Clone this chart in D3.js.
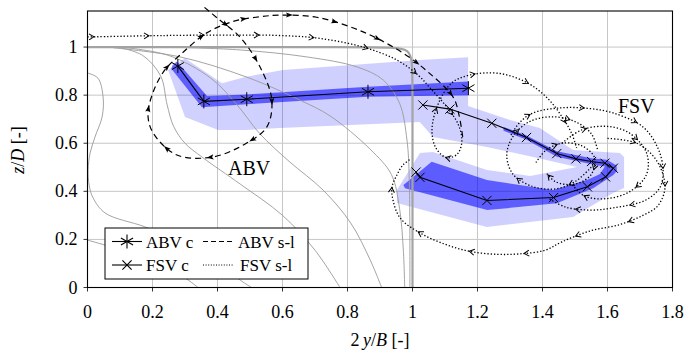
<!DOCTYPE html>
<html><head><meta charset="utf-8">
<script src="https://cdn.jsdelivr.net/npm/d3@7"></script>
<style>body{margin:0;background:#fff}svg{display:block}</style>
</head><body><svg id="c" width="687" height="352" font-family="'Liberation Serif','DejaVu Serif',serif"></svg>
<script>
// ---------- data ----------
const xTicks=[0,0.2,0.4,0.6,0.8,1,1.2,1.4,1.6,1.8];
const xTickLabels=["0","0.2","0.4","0.6","0.8","1","1.2","1.4","1.6","1.8"];
const yTicks=[0,0.2,0.4,0.6,0.8,1];
const yTickLabels=["0","0.2","0.4","0.6","0.8","1"];

// ABV core (centre) positions
const abvX=[0.278,0.358,0.49,0.863,1.172];
const abvY=[0.921,0.774,0.783,0.814,0.829];
// FSV core positions
const fsvX=[1.032,1.115,1.244,1.351,1.444,1.503,1.551,1.592,1.618,1.594,1.538,1.434,1.229,1.023,1.011];
const fsvY=[0.759,0.742,0.683,0.624,0.557,0.535,0.524,0.517,0.496,0.46,0.419,0.374,0.362,0.458,0.48];

// uncertainty bands (outer = light, inner = dark)
const abvLight=[[0.248,0.905],[0.3,0.954],[0.414,0.85],[0.485,0.876],[0.602,0.905],[1.023,0.946],[1.171,0.958],
  [1.171,0.709],[1.023,0.688],[0.592,0.663],[0.485,0.655],[0.402,0.655],[0.3,0.709]];
const abvDark=[[0.262,0.925],[0.275,0.94],[0.368,0.796],[0.49,0.803],[0.863,0.835],[1.171,0.857],
  [1.171,0.8],[0.863,0.793],[0.49,0.762],[0.352,0.75],[0.258,0.91]];
const fsvLight=[[1.011,0.788],[1.171,0.755],[1.3,0.697],[1.392,0.663],[1.494,0.572],[1.638,0.559],[1.651,0.543],
  [1.651,0.414],[1.617,0.393],[1.494,0.293],[1.229,0.252],[0.952,0.351],[0.952,0.406],[1.023,0.559],
  [1.063,0.564],[1.229,0.489],[1.362,0.464],[1.506,0.501],
  [1.371,0.543],[1.229,0.584],[1.063,0.626],[1.017,0.697]];
const fsvDark=[[1.28,0.668],[1.351,0.632],[1.444,0.567],[1.551,0.538],[1.598,0.531],[1.628,0.507],[1.629,0.485],
  [1.618,0.468],[1.556,0.413],[1.444,0.35],[1.23,0.322],[0.977,0.413],[0.972,0.426],[1.059,0.523],
  [1.229,0.447],[1.432,0.406],[1.537,0.447],[1.577,0.472],
  [1.592,0.503],[1.551,0.513],[1.444,0.544],[1.351,0.614],[1.28,0.652]];

// grey iso-lines
const contour1=[[0,0.197],[0.05,0.178],[0.15,0.135],[0.25,0.075],[0.3,0.04],[0.34,0]];
const contour2=[[0,0.892],[0.032,0.871],[0.048,0.792],[0.045,0.71],[0.023,0.626],[0.008,0.559],[0.002,0.49],[0.005,0.426],[0.016,0.376],[0.054,0.31],[0.177,0.252],[0.3,0.18],[0.4,0.1],[0.478,0.023],[0.505,0]];
const contour3=[[0.094,1],[0.17,0.965],[0.225,0.88],[0.245,0.76],[0.265,0.67],[0.3,0.6],[0.355,0.54],[0.47,0.43],[0.6,0.3],[0.7,0.155],[0.777,0]];
const contour4=[[0.1,1],[0.25,0.965],[0.38,0.87],[0.46,0.76],[0.53,0.64],[0.62,0.525],[0.725,0.405],[0.81,0.268],[0.87,0.114],[0.905,0]];
const contour5=[[0.08,0.997],[0.285,0.959],[0.49,0.875],[0.654,0.779],[0.746,0.714],[0.869,0.576],[0.935,0.47],[0.96,0.33],[0.972,0.15],[0.976,0]];
const contour6=[[0.3,0.998],[0.47,0.988],[0.675,0.959],[0.83,0.917],[0.91,0.863],[0.96,0.767],[0.983,0.613],[0.99,0.45],[0.992,0]];
const boundary=[[0,1],[0.9,1],[1,1],[1,0.9],[1,0]];

// streamlines
const abvStream=[[0.36,1.165],[0.4,1.12],[0.469,1.042],[0.531,0.917],[0.567,0.78],[0.552,0.668],[0.49,0.601],[0.386,0.543],[0.275,0.551],[0.202,0.643],[0.186,0.718],[0.202,0.813],[0.238,0.905],[0.285,0.967],[0.367,1.059],[0.454,1.109],[0.531,1.126],[0.592,1.133],[0.705,1.124],[0.848,1.063],[0.971,0.975],[1.048,0.896],[1.125,0.792],[1.143,0.718],[1.155,0.622]];
const fsvStream1=[[0,1.042],[0.238,1.048],[0.46,1.05],[0.592,1.048],[0.715,1.036],[0.848,1.0],[0.952,0.946],[1.02,0.88],[1.054,0.83],[1.1,0.76],[1.14,0.68],[1.152,0.61],[1.138,0.555],[1.105,0.54],[1.072,0.58],[1.06,0.655],[1.078,0.76],[1.12,0.85],[1.177,0.884],[1.269,0.89],[1.355,0.85],[1.417,0.785],[1.46,0.71],[1.49,0.64],[1.505,0.58]];
const fsvStream2=[[1.303,0.634],[1.331,0.688],[1.371,0.726],[1.454,0.747],[1.54,0.745],[1.617,0.726],[1.709,0.668],[1.755,0.58],[1.771,0.489],[1.762,0.418],[1.718,0.364],[1.617,0.331],[1.546,0.322],[1.47,0.335],[1.42,0.37]];
const fsvStream3=[[1.6,0.62],[1.69,0.6],[1.75,0.53],[1.777,0.42],[1.755,0.34],[1.709,0.3],[1.638,0.262],[1.546,0.235],[1.46,0.19],[1.408,0.155],[1.331,0.14],[1.26,0.138],[1.177,0.15],[1.1,0.18],[1.023,0.227],[0.962,0.289],[0.94,0.364],[0.937,0.418],[0.952,0.468],[0.971,0.51],[0.995,0.535]];
const fsvStream4=[[1.55,0.5],[1.5,0.44],[1.44,0.41],[1.37,0.42],[1.31,0.47],[1.29,0.55],[1.31,0.63],[1.36,0.69],[1.43,0.71],[1.5,0.69],[1.55,0.64],[1.57,0.57]];
const fsvStream5=[[1.46,0.6],[1.52,0.655],[1.6,0.67],[1.67,0.64],[1.72,0.56],[1.72,0.47],[1.67,0.4],[1.6,0.37],[1.53,0.38],[1.49,0.43]];
const fsvStream6=[[1.38,0.52],[1.41,0.57],[1.46,0.6],[1.52,0.59],[1.56,0.54],[1.55,0.47],[1.5,0.43],[1.44,0.44],[1.41,0.48]];

// ---------- layout ----------
const L=87.5,R=672.5,T=11,B=287.5;
const x=d3.scaleLinear().domain([0,1.8]).range([L,R]);
const y=d3.scaleLinear().domain([0,1.15]).range([B,T]);
const svg=d3.select("#c");
svg.append("defs").append("clipPath").attr("id","pc").append("rect")
  .attr("x",L).attr("y",T).attr("width",R-L).attr("height",B-T);

// grid
const grid=svg.append("g").attr("stroke","#c6c6c6").attr("stroke-width",1);
xTicks.forEach(t=>grid.append("line").attr("x1",x(t)).attr("x2",x(t)).attr("y1",T).attr("y2",B));
yTicks.forEach(t=>grid.append("line").attr("y1",y(t)).attr("y2",y(t)).attr("x1",L).attr("x2",R));

const poly=d3.line().x(d=>x(d[0])).y(d=>y(d[1]));
const plot=svg.append("g").attr("clip-path","url(#pc)");
const lg=plot.append("g").attr("opacity",0.18);
[abvLight,fsvLight].forEach(p=>lg.append("path").attr("d",poly(p)+"Z").attr("fill","#0000ff"));
const dg=plot.append("g").attr("opacity",0.55);
[abvDark,fsvDark].forEach(p=>dg.append("path").attr("d",poly(p)+"Z").attr("fill","#0000ff"));

// contours
const smooth=d3.line().x(d=>x(d[0])).y(d=>y(d[1])).curve(d3.curveCatmullRom.alpha(0.5));
[contour1,contour2,contour3,contour4,contour5,contour6].forEach(c=>
  plot.append("path").attr("d",smooth(c)).attr("fill","none").attr("stroke","#9a9a9a").attr("stroke-width",0.9));
plot.append("path").attr("d",d3.line().x(d=>x(d[0])).y(d=>y(d[1])).curve(d3.curveBasis)(boundary))
  .attr("fill","none").attr("stroke","#a3a3a3").attr("stroke-width",2.2);

// frame
svg.append("rect").attr("x",L).attr("y",T).attr("width",R-L).attr("height",B-T)
  .attr("fill","none").attr("stroke","#000").attr("stroke-width",1.1);

// ticks + labels
const tk=svg.append("g").attr("stroke","#000").attr("stroke-width",0.8);
xTicks.forEach((t,i)=>{
  tk.append("line").attr("x1",x(t)).attr("x2",x(t)).attr("y1",B).attr("y2",B+4);
  svg.append("text").attr("x",x(t)).attr("y",B+30).attr("text-anchor","middle").attr("font-size",18).text(xTickLabels[i]);
});
yTicks.forEach((t,i)=>{
  tk.append("line").attr("x1",L-4).attr("x2",L).attr("y1",y(t)).attr("y2",y(t));
  svg.append("text").attr("x",L-10).attr("y",y(t)+6).attr("text-anchor","end").attr("font-size",18).text(yTickLabels[i]);
});
const xl=svg.append("text").attr("x",380).attr("y",346).attr("text-anchor","middle").attr("font-size",18);
xl.append("tspan").text("2\u2009");xl.append("tspan").attr("font-style","italic").text("y");
xl.append("tspan").text("/");xl.append("tspan").attr("font-style","italic").text("B");xl.append("tspan").text(" [-]");
const yl=svg.append("text").attr("transform","translate(24,150) rotate(-90)").attr("text-anchor","middle").attr("font-size",18);
yl.append("tspan").attr("font-style","italic").text("z");yl.append("tspan").text("/");
yl.append("tspan").attr("font-style","italic").text("D");yl.append("tspan").text(" [-]");

// markers
function asterisk(g,cx,cy,r){
  [90,30,150].forEach(a=>{const rad=a*Math.PI/180,dx=r*Math.cos(rad),dy=r*Math.sin(rad);
    g.append("line").attr("x1",cx-dx).attr("y1",cy-dy).attr("x2",cx+dx).attr("y2",cy+dy);});
}
function cross(g,cx,cy,r){
  [45,135].forEach(a=>{const rad=a*Math.PI/180,dx=r*Math.cos(rad),dy=r*Math.sin(rad);
    g.append("line").attr("x1",cx-dx).attr("y1",cy-dy).attr("x2",cx+dx).attr("y2",cy+dy);});
}
const lin=d3.line().x(d=>x(d[0])).y(d=>y(d[1]));
const abvPts=abvX.map((v,i)=>[v,abvY[i]]);
const fsvPts=fsvX.map((v,i)=>[v,fsvY[i]]);
svg.append("path").attr("d",lin(abvPts)).attr("fill","none").attr("stroke","#000").attr("stroke-width",1.1);
svg.append("path").attr("d",lin(fsvPts)).attr("fill","none").attr("stroke","#000").attr("stroke-width",1.1);
const mg=svg.append("g").attr("stroke","#000").attr("stroke-width",1);
abvPts.forEach(p=>asterisk(mg,x(p[0]),y(p[1]),7));
fsvPts.forEach(p=>cross(mg,x(p[0]),y(p[1]),6.5));

// streamlines with arrows
function stream(pts,dash,step,filled,off,w){
  const g=svg.append("g");
  const p=g.append("path").attr("d",smooth(pts)).attr("fill","none").attr("stroke","#000")
    .attr("stroke-width",w).attr("stroke-dasharray",dash);
  const n=p.node(),tot=n.getTotalLength();
  for(let s=step*off;s<tot-4;s+=step){
    const a=n.getPointAtLength(s),b=n.getPointAtLength(Math.min(tot,s+1));
    const ang=Math.atan2(b.y-a.y,b.x-a.x)*180/Math.PI;
    const ag=g.append("g").attr("transform",`translate(${a.x},${a.y}) rotate(${ang})`);
    if(filled) ag.append("path").attr("d","M3,0 L-4,-2.6 L-2.5,0 L-4,2.6 Z").attr("fill","#000");
    else ag.append("path").attr("d","M-4,-3 L1,0 L-4,3").attr("fill","none").attr("stroke","#000").attr("stroke-width",1);
  }
}
stream(abvStream,"6,4",46,true,0.6,1.2);
[fsvStream1,fsvStream2,fsvStream3,fsvStream4,fsvStream5,fsvStream6].forEach((s,i)=>stream(s,"1.3,2",55,false,i===0?0.1:0.5,1.3));

// region labels
svg.append("text").attr("x",228).attr("y",175).attr("font-size",20).text("ABV");
svg.append("text").attr("x",618).attr("y",113).attr("font-size",20).text("FSV");

// legend
const lgd=svg.append("g");
lgd.append("rect").attr("x",105).attr("y",228).attr("width",203).attr("height",51)
  .attr("fill","#fff").attr("stroke","#000").attr("stroke-width",1);
const r1=241.5,r2=265;
const ls=lgd.append("g").attr("stroke","#000").attr("stroke-width",1.1);
ls.append("line").attr("x1",112).attr("x2",142).attr("y1",r1).attr("y2",r1);
asterisk(ls,127,r1,7);
ls.append("line").attr("x1",112).attr("x2",142).attr("y1",r2).attr("y2",r2);
cross(ls,127,r2,6.5);
ls.append("line").attr("x1",203).attr("x2",234).attr("y1",r1).attr("y2",r1).attr("stroke-dasharray","5,3").attr("stroke-width",1.2);
ls.append("line").attr("x1",203).attr("x2",234).attr("y1",r2).attr("y2",r2).attr("stroke-dasharray","1,1.6").attr("stroke-width",1.1);
lgd.append("text").attr("x",146).attr("y",r1+6).attr("font-size",17).text("ABV c");
lgd.append("text").attr("x",146).attr("y",r2+6).attr("font-size",17).text("FSV c");
lgd.append("text").attr("x",238).attr("y",r1+6).attr("font-size",17).text("ABV s-l");
lgd.append("text").attr("x",240).attr("y",r2+6).attr("font-size",17).text("FSV s-l");
</script></body></html>
